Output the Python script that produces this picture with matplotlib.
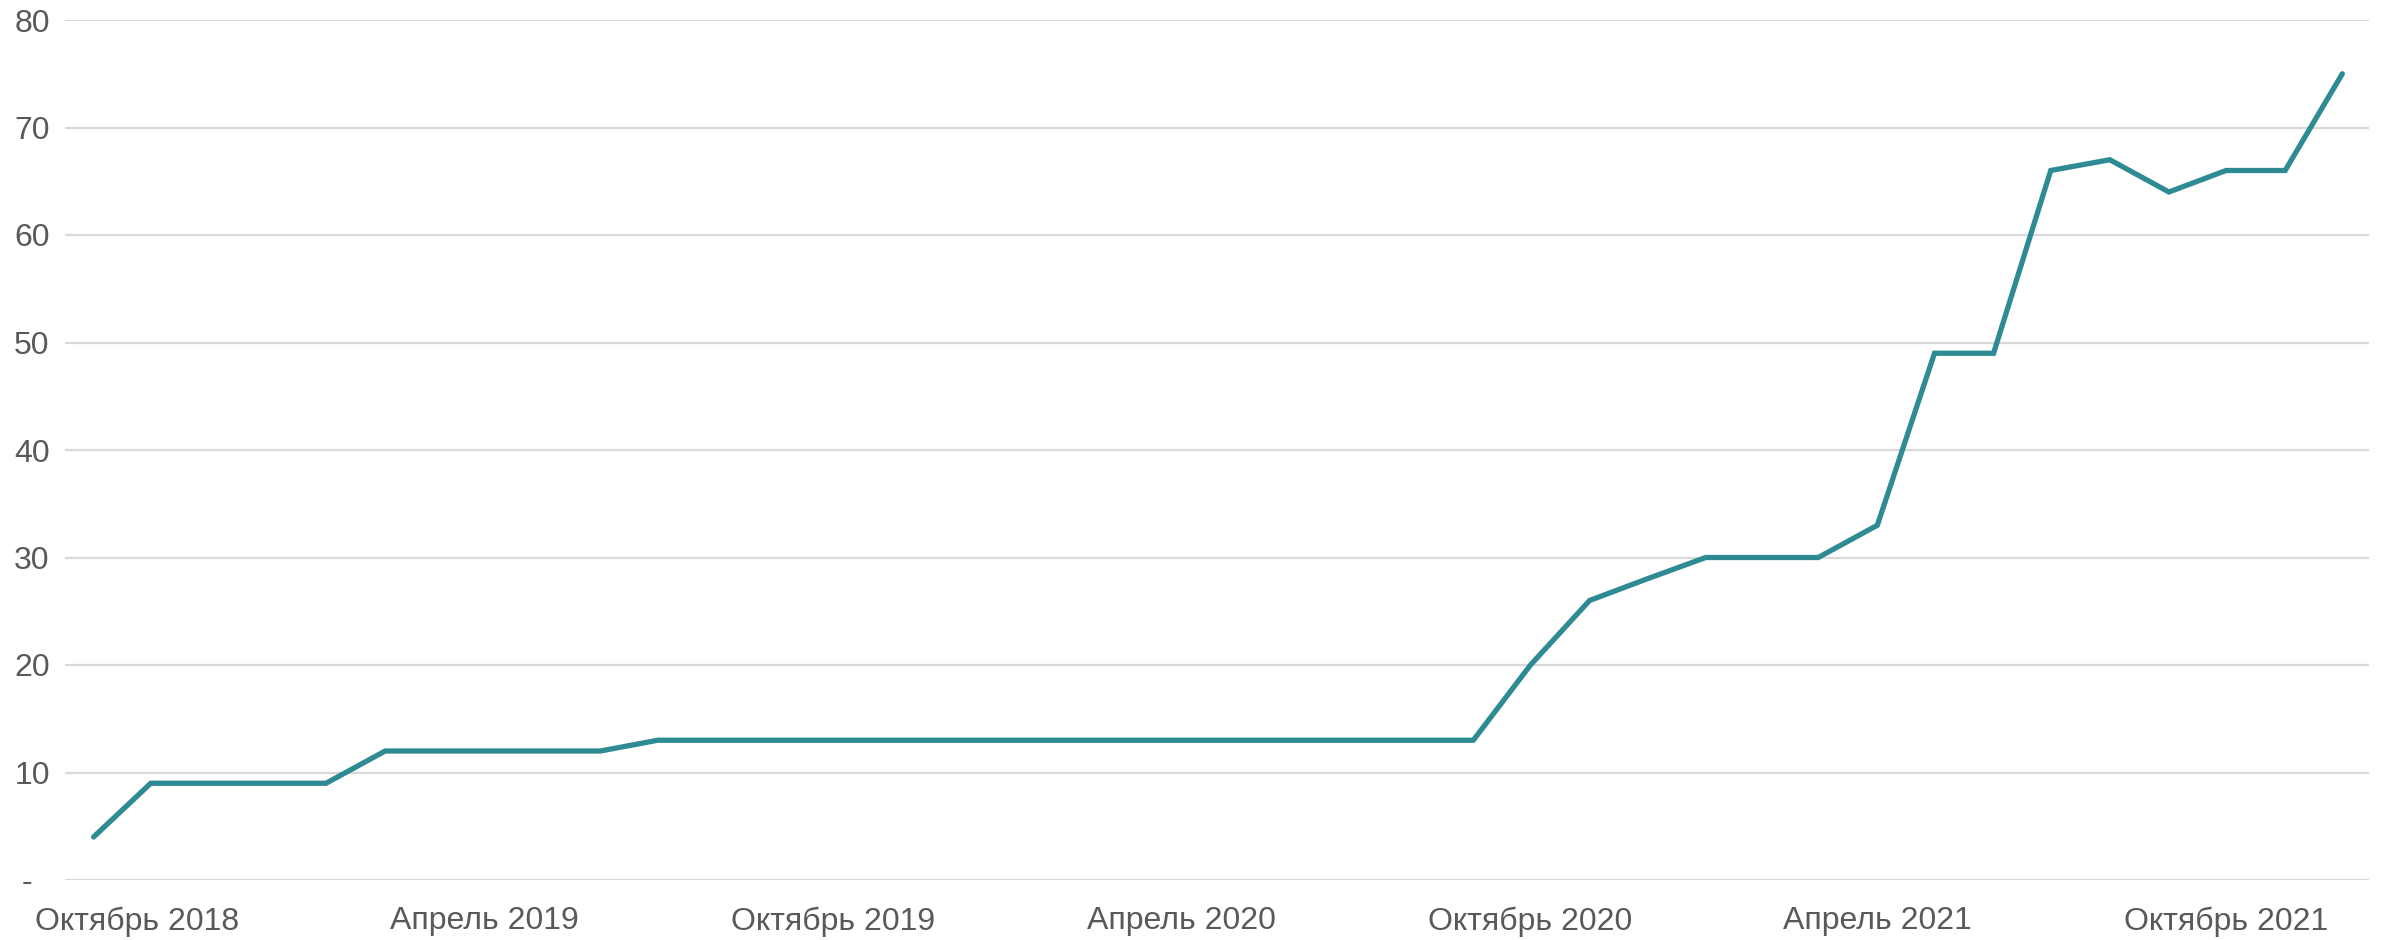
import datetime as dt
import matplotlib
matplotlib.use("Agg")
import matplotlib.pyplot as plt
import matplotlib.dates as mdates
import matplotlib.transforms as mtransforms

plt.rcParams['font.family'] = ['Liberation Sans', 'DejaVu Sans']

# Observation dates (x) and values (y)
dates = ["2018-09-08", "2018-10-08", "2018-11-08", "2018-12-08", "2019-01-08", "2019-02-08",
         "2019-03-01", "2019-04-01", "2019-05-01", "2019-06-01",
         "2019-07-01", "2019-08-01", "2019-09-01", "2019-10-01", "2019-11-01", "2019-12-01",
         "2020-01-01", "2020-02-01", "2020-03-01", "2020-04-01", "2020-05-01", "2020-06-01",
         "2020-07-01", "2020-08-01", "2020-09-01",
         "2020-10-01", "2020-11-01", "2020-12-01",
         "2021-01-01", "2021-02-01", "2021-03-01", "2021-04-01", "2021-05-01", "2021-06-01",
         "2021-07-01", "2021-08-01", "2021-09-01", "2021-10-01", "2021-11-01", "2021-12-01"]
values = [4, 9, 9, 9, 9, 12,
          12, 12, 12, 12,
          13, 13, 13, 13, 13, 13,
          13, 13, 13, 13, 13, 13,
          13, 13, 13,
          20, 26, 28,
          30, 30, 30, 33, 49, 49,
          66, 67, 64, 66, 66, 75]
xtick_dates = ["2018-10-01", "2019-04-01", "2019-10-01", "2020-04-01",
               "2020-10-01", "2021-04-01", "2021-10-01"]
xtick_labels = ["Октябрь 2018", "Апрель 2019", "Октябрь 2019", "Апрель 2020",
                "Октябрь 2020", "Апрель 2021", "Октябрь 2021"]
yticks = [0, 10, 20, 30, 40, 50, 60, 70, 80]
ytick_labels = ["-", "10", "20", "30", "40", "50", "60", "70", "80"]

line_color = "#2E8B93"
text_color = "#595959"
grid_color = "#D9D9D9"

to_date = lambda s: dt.datetime.strptime(s, "%Y-%m-%d")
x = [to_date(d) for d in dates]
xt = [to_date(d) for d in xtick_dates]

W, H = 2392, 940
fig = plt.figure(figsize=(W / 100, H / 100), dpi=100)
ax = fig.add_axes([65 / W, 1 - 880 / H, (2369 - 65) / W, (880 - 20) / H])

ax.plot(x, values, color=line_color, lw=3.8, solid_joinstyle='miter',
        solid_capstyle='round', zorder=3)

ax.set_xlim(x[0] - dt.timedelta(days=15), x[-1] + dt.timedelta(days=14))
ax.set_ylim(0, 80)

ax.set_xticks(xt)
ax.set_xticklabels(xtick_labels)
ax.set_yticks(yticks)
ax.set_yticklabels(ytick_labels)

ax.tick_params(axis='both', length=0, labelsize=23, labelcolor=text_color)
ax.tick_params(axis='x', pad=19)
ax.tick_params(axis='y', pad=11)

# accounting-style dash sits left of the digits' right edge
zero_lbl = ax.get_yticklabels()[0]
zero_lbl.set_transform(zero_lbl.get_transform() +
                       mtransforms.ScaledTranslation(-17 / 100, 0, fig.dpi_scale_trans))

ax.grid(axis='y', color=grid_color, lw=1.6, zorder=0)
ax.grid(axis='x', visible=False)
for s in ax.spines.values():
    s.set_visible(False)

fig.savefig("out.png", dpi=100, facecolor="white")
